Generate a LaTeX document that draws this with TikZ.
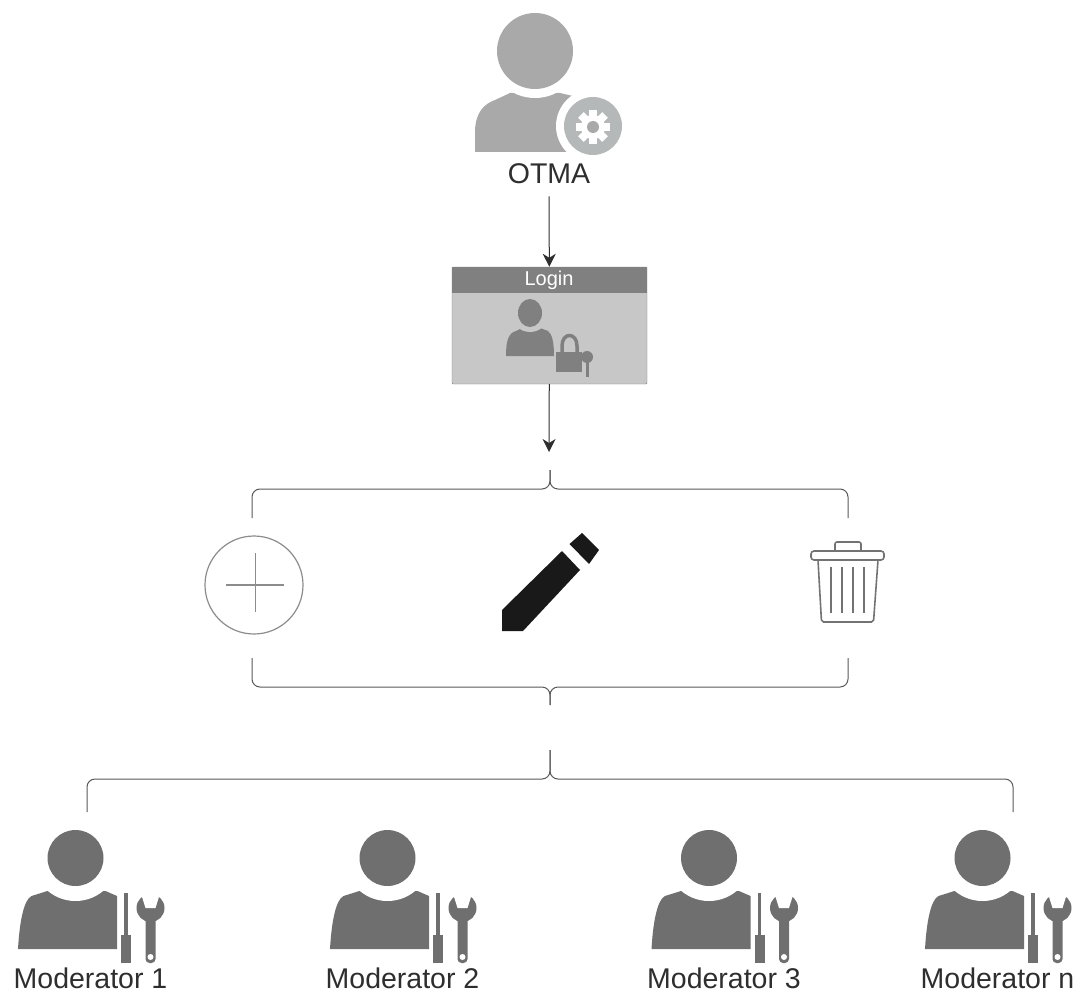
\documentclass[tikz,border=0pt]{standalone}
\usepackage{fontspec}
\setmainfont{Liberation Sans}
\usetikzlibrary{arrows.meta}
\definecolor{otmagray}{HTML}{A9A9A9}
\definecolor{gearcirc}{HTML}{B4B8B9}
\definecolor{modgray}{HTML}{6F6F6F}
\definecolor{logingray}{HTML}{808080}
\definecolor{inkgray}{HTML}{2E2E2E}

\tikzset{
    iconlabel/.style={font=\fontsize{28.5}{30}\selectfont,text=inkgray,inner sep=0pt},
    bracket/.style={draw=inkgray!80,line width=1pt,rounded corners=8pt},
    link/.style={-{Stealth[length=13pt,width=13pt,inset=4pt]},draw=inkgray,line width=1pt},
    pics/moderator/.style={code={
        \fill[modgray] (-57.5,91) .. controls (-56,65) and (-52,42) .. (-44,38)
            -- (-28,33) -- (30,33) -- (41.5,38) -- (41.5,91) -- cycle;
        \fill[white] (0,0) circle (43);
        \fill[modgray] (0,0) circle (28);
        % screwdriver
        \fill[modgray] (48.5,35) rectangle (52,77);
        \fill[modgray] (45.5,77) rectangle (55.5,105);
        % wrench
        \fill[modgray] (75,50) circle (14);
        \fill[white] (65,34) -- (85,34) -- (80,50) -- (70,50) -- cycle;
        \fill[modgray,rounded corners=4pt] (70,55) rectangle (80,105);
        \fill[white] (75,99) circle (3);
        \node[iconlabel] (-label) at (15,120) {#1};
    }},
}

\begin{document}
\begin{tikzpicture}[x=1pt,y=-1pt]
    \useasboundingbox (0,0) rectangle (1078,995);

    % OTMA
    \fill[otmagray] (475,152) -- (475,130) .. controls (476,112) and (484,104) .. (495,100)
        -- (510,93) -- (560,93) -- (590,100) -- (590,152) -- cycle;
    \fill[white] (535,51) circle (47);
    \fill[otmagray] (535,51) circle (38);
    \fill[white] (593,126) circle (37);
    \fill[gearcirc] (593,126) circle (29);
    \foreach \a in {0,45,...,315}
        \fill[white,rotate around={\a:(593,127)}] (589,110) rectangle (597,120);
    \fill[white] (593,127) circle (12);
    \fill[otmagray] (593,127) circle (6);
    \node[iconlabel] (otma) at (549,174) {OTMA};

    % login box
    \node[draw=logingray,fill=black!22,minimum width=195pt,minimum height=117pt,inner sep=0pt,rounded corners=1pt] (login) at (549.5,325.5) {};
    \fill[logingray] (login.north west) rectangle (647,293);
    \node[font=\fontsize{20}{22}\selectfont,text=white,inner sep=0pt] (logintitle) at (549,280) {Login};
    \fill[logingray] (506,356) .. controls (506,342) and (508,333) .. (516,331)
        -- (522,328) -- (540,328) -- (548,331) .. controls (552,334) and (554,342) .. (554,356) -- cycle;
    \fill[black!22] (530,313) circle (19);
    \fill[logingray] (530,313) ellipse (12 and 14);
    \draw[logingray,line width=3.5pt] (562,354) -- (562,346) .. controls (562,332) and (577,332) .. (577,346) -- (577,354);
    \fill[logingray] (556,352) rectangle (582,372);
    \fill[logingray] (587,357) circle (6);
    \fill[logingray] (585.5,360) rectangle (588.5,377);

    % add / edit / delete
    \node[circle,draw=black!45,line width=1.2pt,minimum size=98pt,inner sep=0pt] (add) at (254,585) {};
    \draw[black!45,line width=1.2pt] (226,585) -- (284,585);
    \draw[black!45,line width=1pt] (255,553) -- (255,612);

    \fill[black!90] (502,610) -- (502,631) -- (523,631) -- (580,570) -- (562,551) -- cycle;
    \fill[black!90] (569.5,544) -- (582,533) -- (599,550) -- (589,564) -- cycle;

    \draw[black!55,line width=1.6pt,rounded corners=2pt] (835,551) -- (835,542) -- (861,542) -- (861,551);
    \draw[black!55,line width=1.6pt,rounded corners=3pt] (811,551) rectangle (884,560);
    \draw[black!55,line width=1.6pt,rounded corners=2pt] (818,560) -- (821.5,622) -- (873.5,622) -- (878,560);
    \foreach \x in {831,842,853,864}
        \draw[black!55,line width=1.2pt] (\x,567) -- (\x,613);

    % moderators
    \pic (mod1) at (75.5,858) {moderator={Moderator 1}};
    \pic (mod2) at (387.5,858) {moderator={Moderator 2}};
    \pic (mod3) at (709,858) {moderator={Moderator 3}};
    \pic (modn) at (982.5,858) {moderator={Moderator n}};

    % brackets
    \coordinate (upL) at (252,518);
    \coordinate (upR) at (848,518);
    \coordinate (upM) at (550,489);
    \coordinate (upT) at (550,470);
    \coordinate (midL) at (252,658);
    \coordinate (midR) at (848,658);
    \coordinate (midM) at (550,687);
    \coordinate (midT) at (550,705);
    \coordinate (lowL) at (87,812);
    \coordinate (lowR) at (1013,812);
    \coordinate (lowM) at (550,779);
    \coordinate (lowT) at (550,750);
    \coordinate (loginend) at (549,452);

    \draw[bracket] (upL) |- (upM) -- (upT);
    \draw[bracket] (upR) |- (upM) -- (upT);
    \draw[bracket] (midL) |- (midM) -- (midT);
    \draw[bracket] (midR) |- (midM) -- (midT);
    \draw[bracket] (lowL) |- (lowM) -- (lowT);
    \draw[bracket] (lowR) |- (lowM) -- (lowT);

    % arrows
    \draw[link,shorten <=12pt] (otma) -- (login);
    \draw[link] (login) -- (loginend);
\end{tikzpicture}
\end{document}
